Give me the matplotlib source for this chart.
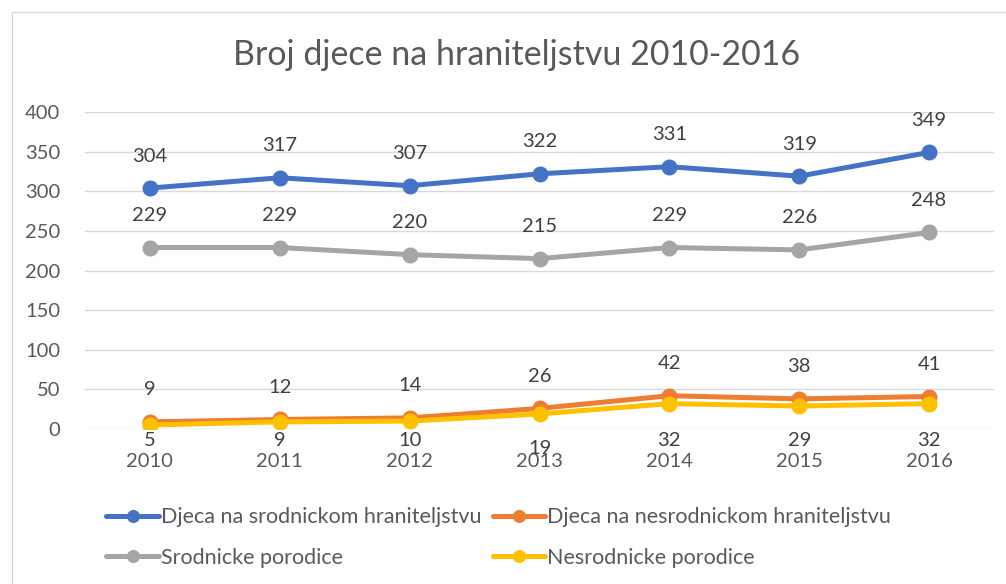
import matplotlib.pyplot as plt
from matplotlib.patches import Rectangle

years = ['2010', '2011', '2012', '2013', '2014', '2015', '2016']
djeca_srodnicko = [304, 317, 307, 322, 331, 319, 349]
djeca_nesrodnicko = [9, 12, 14, 26, 42, 38, 41]
srodnicke_porodice = [229, 229, 220, 215, 229, 226, 248]
nesrodnicke_porodice = [5, 9, 10, 19, 32, 29, 32]

txt = '#595959'
plt.rcParams['font.family'] = ['Lato', 'DejaVu Sans']

fig = plt.figure(figsize=(10.06, 5.84), dpi=100)
# chart border like excel
fig.patches.append(Rectangle((12 / 1006, -0.01), 1.0, 1 - 12 / 584 + 0.01,
                             transform=fig.transFigure, fill=False,
                             edgecolor='#D9D9D9', linewidth=1))

ax = fig.add_axes([85 / 1006, 155 / 584, 909 / 1006, 317 / 584])
x = list(range(len(years)))

series = [
    (djeca_srodnicko, '#4472C4', 'Djeca na srodnickom hraniteljstvu', 1),
    (djeca_nesrodnicko, '#ED7D31', 'Djeca na nesrodnickom hraniteljstvu', 1),
    (srodnicke_porodice, '#A5A5A5', 'Srodnicke porodice', 1),
    (nesrodnicke_porodice, '#FFC000', 'Nesrodnicke porodice', -1),
]

lines = []
for vals, col, name, side in series:
    ln, = ax.plot(x, vals, color=col, lw=3.6, marker='o', ms=10.5,
                  solid_capstyle='round', label=name, zorder=3)
    lines.append(ln)
    for xi, v in zip(x, vals):
        if side > 0:
            ax.annotate(str(v), (xi, v), xytext=(0, 23), textcoords='offset points',
                        ha='center', va='center', fontsize=14.5, color='#404040')
        else:
            # excel put these just under the axis line (2013 one sits a bit lower)
            dy = -6 if 15 < v < 25 else 0
            ax.annotate(str(v), (xi, -14), xytext=(0, dy), textcoords='offset points',
                        ha='center', va='center', fontsize=14.5, color='#404040',
                        annotation_clip=False, zorder=4)

ax.set_xlim(-0.5, len(years) - 0.5)
ax.set_ylim(0, 400)
ax.set_yticks(range(0, 401, 50))
ax.set_xticks(x)
ax.set_xticklabels(years)
ax.tick_params(length=0, labelsize=14.5, colors=txt)
ax.tick_params(axis='x', pad=17)
ax.tick_params(axis='y', pad=18)
ax.grid(axis='y', color='#D9D9D9', lw=1)
ax.set_axisbelow(True)
for s in ax.spines.values():
    s.set_visible(False)

fig.text(517 / 1006, 1 - 55 / 584, 'Broj djece na hraniteljstvu 2010-2016',
         ha='center', va='center', fontsize=24.5, color=txt)

order = [lines[0], lines[2], lines[1], lines[3]]
fig.legend(order, [l.get_label() for l in order], ncol=2, frameon=False,
           loc='upper left', bbox_to_anchor=(87 / 1006, 1 - 488 / 584),
           fontsize=15.5, labelcolor=txt, handlelength=2.45, handletextpad=0.1,
           columnspacing=0.5, labelspacing=0.95, markerscale=0.8)

fig.savefig('out.png', dpi=100)
